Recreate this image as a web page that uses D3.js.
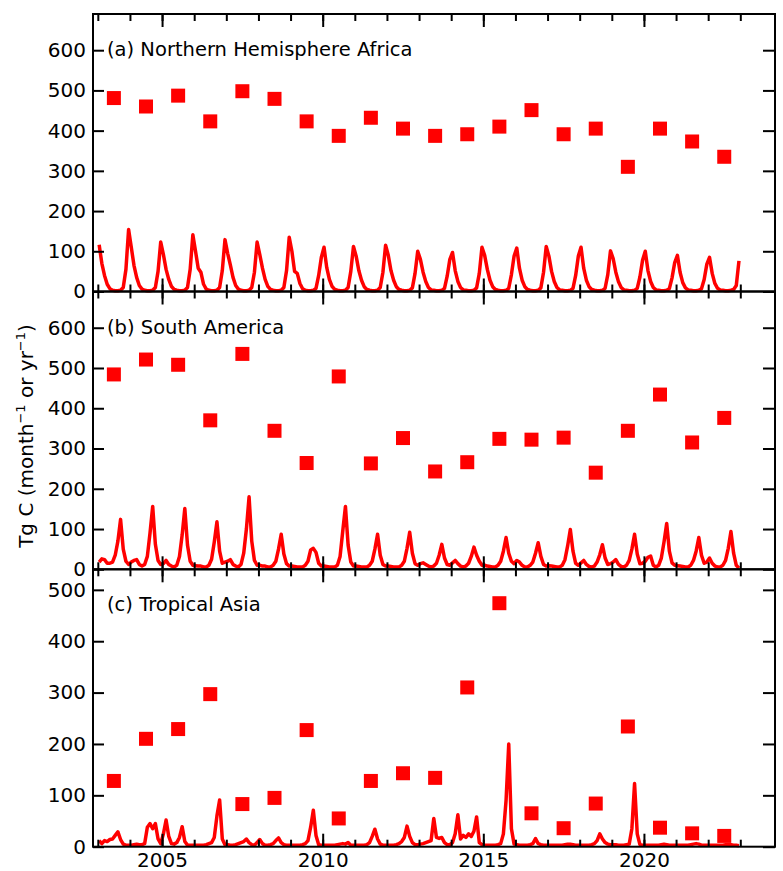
<!DOCTYPE html>
<html><head><meta charset="utf-8">
<script src="https://cdn.jsdelivr.net/npm/d3@7"></script>
<style>
body{margin:0;background:#fff}
svg{display:block}
text{font-family:"DejaVu Sans",sans-serif;fill:#000}
</style>
</head><body>
<svg id="chart" width="783" height="871"></svg>
<script>
// ---------------- DATA ----------------
const years = [2003,2004,2005,2006,2007,2008,2009,2010,2011,2012,2013,2014,2015,2016,2017,2018,2019,2020,2021,2022];
const panelLabels = ["(a) Northern Hemisphere Africa", "(b) South America", "(c) Tropical Asia"];

// annual totals (Tg C / yr), squares
const nhAfricaAnnual = [481,460,487,423,498,479,423,387,432,405,387,391,410,451,391,405,310,405,373,335];
const southAmericaAnnual = [484,521,508,370,535,344,264,479,263,326,243,266,324,322,327,240,344,434,315,376];
const tropicalAsiaAnnual = [128,210,229,297,83,95,227,55,128,143,134,310,474,65,36,84,234,37,26,21];

// monthly emissions (Tg C / month), Jan..Dec for each year
const nhAfricaMonthly = [
  116,70,40,18,7,3,2,2,3,10,55,154,
  110,65,35,15,6,3,2,2,3,10,50,123,
  92,55,30,13,5,3,2,2,3,10,55,141,
  100,58,48,18,6,3,2,2,3,10,52,129,
  95,66,35,15,6,3,2,2,3,10,48,123,
  92,58,30,13,5,3,2,2,3,10,52,135,
  100,50,45,20,7,3,2,2,3,8,40,85,
  110,60,30,13,5,3,2,2,3,10,50,112,
  88,52,28,12,5,3,2,2,3,10,48,115,
  90,52,28,12,5,3,2,2,3,9,45,100,
  80,48,25,10,4,3,2,2,3,8,38,80,
  97,52,25,10,4,3,2,2,3,9,45,110,
  90,55,28,12,5,3,2,2,3,8,42,88,
  108,58,28,12,5,3,2,2,3,9,48,112,
  88,50,25,10,4,3,2,2,3,8,40,88,
  110,58,28,12,5,3,2,2,3,8,42,101,
  82,48,24,10,4,3,2,2,3,8,36,78,
  100,52,25,10,4,3,2,2,3,7,34,72,
  90,48,22,9,4,3,2,2,3,7,30,68,
  85,45,20,8,4,3,2,2,3,5,15,76
];
const southAmericaMonthly = [
  18,26,24,15,15,18,35,70,124,50,20,12,
  18,22,24,12,8,12,32,90,156,62,22,12,
  14,22,12,8,6,10,32,85,151,60,20,10,
  9,8,8,6,6,10,25,68,118,45,15,18,
  20,24,12,8,6,12,40,100,180,70,22,10,
  10,8,8,6,6,10,20,50,87,38,14,8,
  8,7,6,6,6,10,20,48,52,42,15,8,
  8,7,6,6,6,10,32,95,156,60,18,8,
  8,7,6,6,6,10,20,50,87,35,12,8,
  8,7,6,6,6,10,20,52,92,40,14,10,
  14,16,12,8,6,8,15,35,62,28,12,10,
  16,22,14,8,6,8,15,32,55,35,20,10,
  10,8,7,6,6,10,20,45,79,40,20,14,
  22,18,10,6,6,10,18,40,66,32,12,8,
  9,8,7,6,6,10,24,58,99,45,15,10,
  16,22,12,7,6,8,18,36,61,28,12,14,
  18,24,12,7,6,10,22,50,87,38,14,15,
  20,30,33,10,6,10,28,68,114,45,16,10,
  9,8,7,6,6,10,22,45,79,35,15,18,
  28,15,8,6,6,10,22,52,94,40,10,3
];
const tropicalAsiaMonthly = [
  12,6,12,10,14,15,22,29,14,5,3,3,
  3,4,5,4,4,6,38,45,35,45,15,6,
  25,52,20,6,5,8,18,39,10,3,3,3,
  3,3,3,3,4,6,8,18,60,91,15,4,
  4,3,3,4,6,8,10,15,8,4,3,8,
  14,6,3,3,4,6,12,17,8,4,3,3,
  3,3,3,3,4,6,12,38,71,22,4,3,
  3,3,3,3,3,4,5,6,5,8,3,3,
  3,3,3,3,4,8,20,34,15,5,3,3,
  3,3,3,4,6,10,18,40,20,8,4,4,
  5,6,8,10,12,55,18,16,18,8,4,4,
  8,25,62,15,22,18,25,20,30,58,8,4,
  3,3,3,3,3,4,6,25,90,200,35,5,
  4,3,3,3,3,4,6,16,6,4,3,3,
  3,3,3,3,3,3,4,5,5,4,3,3,
  3,3,3,3,4,6,12,25,15,8,5,4,
  4,4,3,3,3,4,5,35,123,25,4,3,
  3,3,3,3,3,3,4,5,4,3,3,3,
  3,3,3,3,3,4,5,6,5,3,3,3,
  3,3,3,3,3,3,4,4,4,3,3,2
];

const yTicksAB = [0,100,200,300,400,500,600];
const yTicksC = [0,100,200,300,400,500];
const xMajorTicks = [2005,2010,2015,2020];
const xMinorTicks = [2003,2004,2005,2006,2007,2008,2009,2010,2011,2012,2013,2014,2015,2016,2017,2018,2019,2020,2021,2022,2023];

// ---------------- DRAW ----------------
const svg = d3.select("#chart");
const left = 93, right = 775;
const x = d3.scaleLinear().domain([2002.85, 2024.08]).range([left, right]);
const red = "#ff0000";

const panels = [
  {top: 14,    bottom: 291.5, max: 690, ticks: yTicksAB, annual: nhAfricaAnnual, monthly: nhAfricaMonthly, label: panelLabels[0], xLabels: false},
  {top: 291.5, bottom: 569.3, max: 690, ticks: yTicksAB, annual: southAmericaAnnual, monthly: southAmericaMonthly, label: panelLabels[1], xLabels: false},
  {top: 569.3, bottom: 846.7, max: 540, ticks: yTicksC, annual: tropicalAsiaAnnual, monthly: tropicalAsiaMonthly, label: panelLabels[2], xLabels: true}
];

function styleAxis(g, fontSize) {
  g.select(".domain").remove();
  g.selectAll(".tick line").attr("stroke", "#000").attr("stroke-width", 2);
  g.selectAll(".tick text").attr("font-size", fontSize).attr("font-family", '"DejaVu Sans",sans-serif').attr("fill", "#000");
}

panels.forEach(p => {
  const g = svg.append("g");
  const y = d3.scaleLinear().domain([0, p.max]).range([p.bottom, p.top]);

  const monthlyPts = p.monthly.map((v, i) => ({t: years[Math.floor(i / 12)] + ((i % 12) + 0.5) / 12, v}));
  g.append("path")
    .datum(monthlyPts)
    .attr("fill", "none")
    .attr("stroke", red)
    .attr("stroke-width", 3.5)
    .attr("stroke-linejoin", "round")
    .attr("d", d3.line().x(d => x(d.t)).y(d => y(d.v)));

  g.selectAll("rect.sq")
    .data(p.annual.map((v, i) => ({t: years[i] + 0.5, v})))
    .join("rect")
    .attr("class", "sq")
    .attr("x", d => x(d.t) - 7)
    .attr("y", d => y(d.v) - 7)
    .attr("width", 14).attr("height", 14)
    .attr("fill", red);

  // left axis (ticks inward, labels outside)
  g.append("g").attr("transform", `translate(${left},0)`)
    .call(d3.axisLeft(y).tickValues(p.ticks).tickSizeInner(-11).tickSizeOuter(0).tickPadding(7))
    .call(a => styleAxis(a, 20));
  // right axis
  g.append("g").attr("transform", `translate(${right},0)`)
    .call(d3.axisRight(y).tickValues(p.ticks).tickSizeInner(-12).tickSizeOuter(0).tickFormat(""))
    .call(a => styleAxis(a, 20));
  // top ticks
  g.append("g").attr("transform", `translate(0,${p.top})`)
    .call(d3.axisTop(x).tickValues(xMinorTicks).tickSizeInner(-7).tickSizeOuter(0).tickFormat(""))
    .call(a => styleAxis(a, 20));
  g.append("g").attr("transform", `translate(0,${p.top})`)
    .call(d3.axisTop(x).tickValues(xMajorTicks).tickSizeInner(-13).tickSizeOuter(0).tickFormat(""))
    .call(a => styleAxis(a, 20));
  // bottom ticks
  g.append("g").attr("transform", `translate(0,${p.bottom})`)
    .call(d3.axisBottom(x).tickValues(xMinorTicks).tickSizeInner(-7).tickSizeOuter(0).tickFormat(""))
    .call(a => styleAxis(a, 20));
  g.append("g").attr("transform", `translate(0,${p.bottom})`)
    .call(d3.axisBottom(x).tickValues(xMajorTicks).tickSizeInner(-13).tickSizeOuter(0).tickPadding(6)
      .tickFormat(p.xLabels ? d3.format("d") : ""))
    .call(a => styleAxis(a, 20));

  // frame
  g.append("rect")
    .attr("x", left).attr("y", p.top)
    .attr("width", right - left).attr("height", p.bottom - p.top)
    .attr("fill", "none").attr("stroke", "#000").attr("stroke-width", 2);

  // panel label
  g.append("text")
    .attr("x", 107).attr("y", p.top + 42)
    .attr("font-size", 19.5)
    .text(p.label);
});

// y-axis title
const yt = svg.append("text")
  .attr("transform", "translate(33,436) rotate(-90)")
  .attr("text-anchor", "middle")
  .attr("font-size", 20);
yt.append("tspan").text("Tg C (month");
yt.append("tspan").attr("font-size", 13).attr("dy", -8).text("\u22121");
yt.append("tspan").attr("dy", 8).text(" or yr");
yt.append("tspan").attr("font-size", 13).attr("dy", -8).text("\u22121");
yt.append("tspan").attr("dy", 8).text(")");
</script>
</body></html>
